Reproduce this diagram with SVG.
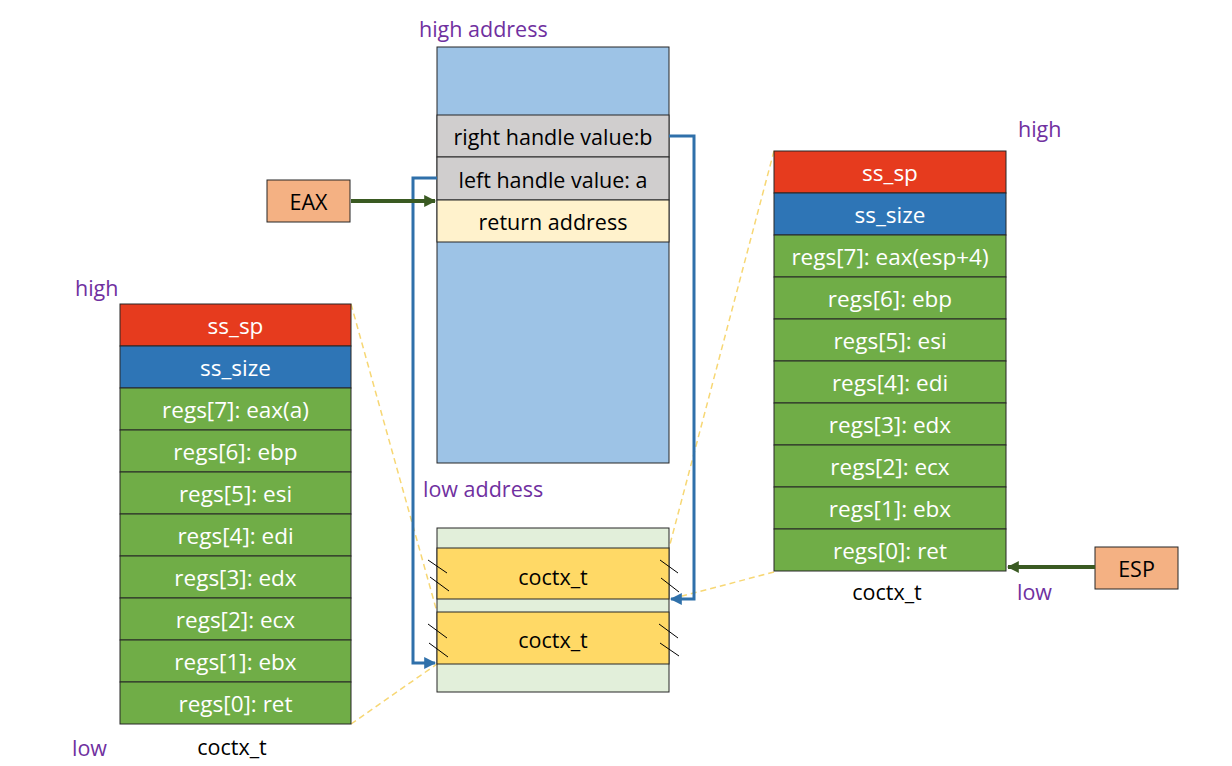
<svg xmlns="http://www.w3.org/2000/svg" width="1232" height="766" viewBox="0 0 1232 766">
<style>
.cell{stroke:#262626;stroke-width:1}
.w{fill:#fff;font-family:"Open Sans",Lato,sans-serif;font-size:22.5px;text-anchor:middle;dominant-baseline:central}
.k{fill:#000;font-family:"Open Sans",Lato,sans-serif;font-size:21.5px;text-anchor:middle;dominant-baseline:central}
.p{fill:#7030A0;font-family:"Open Sans",Lato,sans-serif;font-size:21.5px}
.red{fill:#E63B1E}.blu{fill:#2E75B6}.grn{fill:#70AD47}
.dash{stroke:#F7D774;stroke-width:1.5;stroke-dasharray:6,4;fill:none}
.hat{stroke:#000;stroke-width:1}
.conn{stroke:#2F70AA;stroke-width:3;fill:none}
.garrow{stroke:#3A5A22;stroke-width:4;fill:none}
</style>
<defs>
<marker id="ab" viewBox="0 0 10 10" refX="9" refY="5" markerWidth="4" markerHeight="4" orient="auto" markerUnits="strokeWidth"><path d="M0,0 L10,5 L0,10 z" fill="#2F70AA"/></marker>
<marker id="ag" viewBox="0 0 10 10" refX="9" refY="5" markerWidth="3" markerHeight="3" orient="auto" markerUnits="strokeWidth"><path d="M0,0 L10,5 L0,10 z" fill="#3A5A22"/></marker>
</defs>

<!-- labels -->
<text class="p" x="419" y="37">high address</text>
<text class="p" x="423" y="497">low address</text>
<text class="p" x="1018" y="137">high</text>
<text class="p" x="1017" y="600">low</text>
<text class="p" x="75" y="296">high</text>
<text class="p" x="72" y="756">low</text>

<!-- dashed mapping lines -->
<g id="mapping">
<line class="dash" x1="351" y1="304" x2="437" y2="612"/>
<line class="dash" x1="351" y1="724" x2="437" y2="664"/>
<line class="dash" x1="774" y1="151" x2="669" y2="548"/>
<line class="dash" x1="774" y1="572" x2="671" y2="599"/>
</g>

<!-- central stack -->
<g id="stack">
<rect class="cell" x="437" y="47" width="232" height="416" fill="#9DC3E6"/>
<rect class="cell" x="437" y="115" width="232" height="42" fill="#D0CECE"/>
<text class="k" x="553" y="136">right handle value:b</text>
<rect class="cell" x="437" y="157" width="232" height="43" fill="#D0CECE"/>
<text class="k" x="553" y="179">left handle value: a</text>
<rect class="cell" x="437" y="200" width="232" height="42" fill="#FFF2CC"/>
<text class="k" x="553" y="221">return address</text>
</g>

<!-- lower memory -->
<g id="memory">
<rect class="cell" x="437" y="528" width="232" height="164" fill="#E2EFDA"/>
<rect class="cell" x="437" y="548" width="232" height="51" fill="#FFD966"/>
<text class="k" x="553" y="576">coctx_t</text>
<rect class="cell" x="437" y="612" width="232" height="52" fill="#FFD966"/>
<text class="k" x="553" y="639">coctx_t</text>
<line class="hat" x1="428" y1="560" x2="447" y2="573"/>
<line class="hat" x1="430" y1="577" x2="449" y2="591"/>
<line class="hat" x1="660" y1="560" x2="678" y2="573"/>
<line class="hat" x1="661" y1="578" x2="679" y2="592"/>
<line class="hat" x1="428" y1="624" x2="447" y2="638"/>
<line class="hat" x1="429" y1="643" x2="448" y2="657"/>
<line class="hat" x1="659" y1="624" x2="678" y2="638"/>
<line class="hat" x1="660" y1="643" x2="679" y2="656"/>
</g>

<!-- EAX / ESP -->
<g id="eax">
<rect class="cell" x="267" y="180" width="83" height="42" fill="#F4B183"/>
<text class="k" x="308.5" y="201">EAX</text>
</g>
<g id="esp">
<rect class="cell" x="1095" y="547" width="83" height="42" fill="#F4B183"/>
<text class="k" x="1136.5" y="568">ESP</text>
</g>

<!-- left coctx -->
<g id="left-coctx">
<rect class="cell red" x="120" y="304" width="231" height="42"/><text class="w" x="235.5" y="325">ss_sp</text>
<rect class="cell blu" x="120" y="346" width="231" height="42"/><text class="w" x="235.5" y="367">ss_size</text>
<rect class="cell grn" x="120" y="388" width="231" height="42"/><text class="w" x="235.5" y="409">regs[7]: eax(a)</text>
<rect class="cell grn" x="120" y="430" width="231" height="42"/><text class="w" x="235.5" y="451">regs[6]: ebp</text>
<rect class="cell grn" x="120" y="472" width="231" height="42"/><text class="w" x="235.5" y="493">regs[5]: esi</text>
<rect class="cell grn" x="120" y="514" width="231" height="42"/><text class="w" x="235.5" y="535">regs[4]: edi</text>
<rect class="cell grn" x="120" y="556" width="231" height="42"/><text class="w" x="235.5" y="577">regs[3]: edx</text>
<rect class="cell grn" x="120" y="598" width="231" height="42"/><text class="w" x="235.5" y="619">regs[2]: ecx</text>
<rect class="cell grn" x="120" y="640" width="231" height="42"/><text class="w" x="235.5" y="661">regs[1]: ebx</text>
<rect class="cell grn" x="120" y="682" width="231" height="42"/><text class="w" x="235.5" y="703">regs[0]: ret</text>
<text class="k" x="232" y="746">coctx_t</text>
</g>

<!-- right coctx -->
<g id="right-coctx">
<rect class="cell red" x="774" y="151" width="232" height="42"/><text class="w" x="890" y="172">ss_sp</text>
<rect class="cell blu" x="774" y="193" width="232" height="42"/><text class="w" x="890" y="214">ss_size</text>
<rect class="cell grn" x="774" y="235" width="232" height="42"/><text class="w" x="890" y="256">regs[7]: eax(esp+4)</text>
<rect class="cell grn" x="774" y="277" width="232" height="42"/><text class="w" x="890" y="298">regs[6]: ebp</text>
<rect class="cell grn" x="774" y="319" width="232" height="42"/><text class="w" x="890" y="340">regs[5]: esi</text>
<rect class="cell grn" x="774" y="361" width="232" height="42"/><text class="w" x="890" y="382">regs[4]: edi</text>
<rect class="cell grn" x="774" y="403" width="232" height="42"/><text class="w" x="890" y="424">regs[3]: edx</text>
<rect class="cell grn" x="774" y="445" width="232" height="42"/><text class="w" x="890" y="466">regs[2]: ecx</text>
<rect class="cell grn" x="774" y="487" width="232" height="42"/><text class="w" x="890" y="508">regs[1]: ebx</text>
<rect class="cell grn" x="774" y="529" width="232" height="42"/><text class="w" x="890" y="550">regs[0]: ret</text>
<text class="k" x="887" y="591">coctx_t</text>
</g>

<!-- connectors -->
<g id="connectors">
<path class="conn" d="M669,136 H694 V599 H671" marker-end="url(#ab)"/>
<path class="conn" d="M437,178 H413 V663 H435" marker-end="url(#ab)"/>
<path class="garrow" d="M351,201 H435" marker-end="url(#ag)"/>
<path class="garrow" d="M1095,567 H1008" marker-end="url(#ag)"/>
</g>
</svg>
